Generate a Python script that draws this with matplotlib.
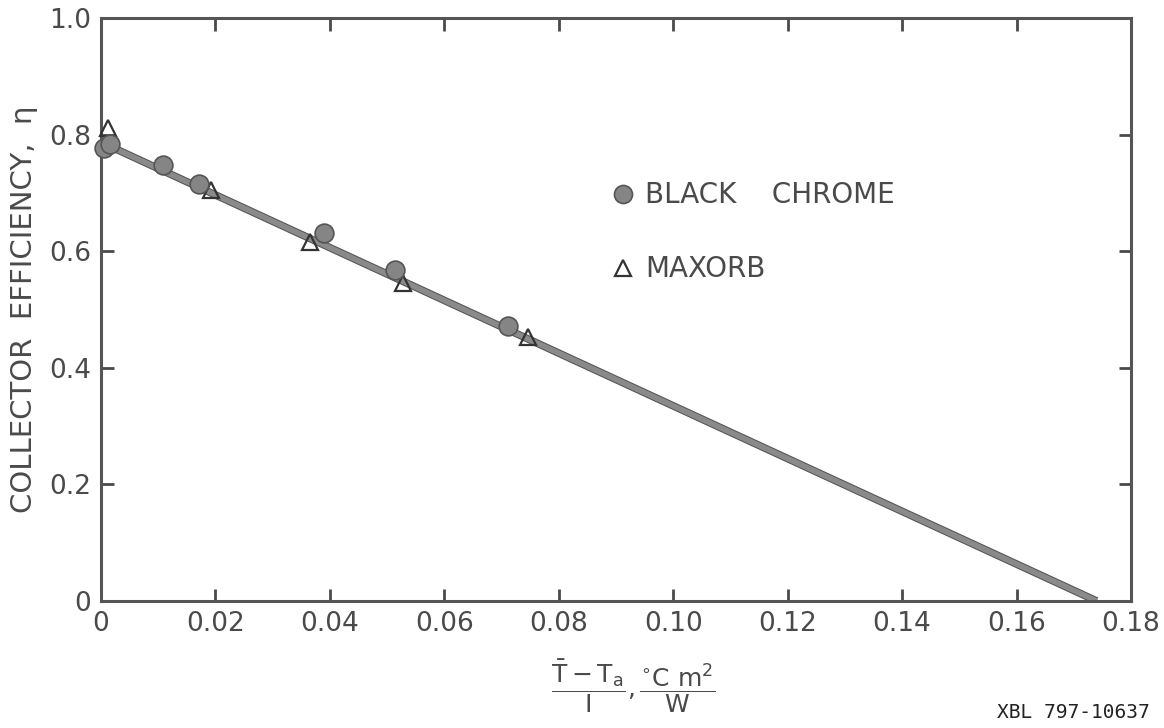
import matplotlib
matplotlib.use('Agg')
import matplotlib.pyplot as plt
import matplotlib.patheffects as pe

# ---- data ----
bc_x = [0.0005, 0.0016, 0.0109, 0.0172, 0.0389, 0.0514, 0.0712]
bc_y = [0.777, 0.784, 0.748, 0.716, 0.631, 0.568, 0.472]
mx_x = [0.0012, 0.0193, 0.0366, 0.0528, 0.0747]
mx_y = [0.811, 0.705, 0.616, 0.545, 0.453]
fit_x = [0.0, 0.174]
fit_y = [0.787, 0.0]

x_ticks = [0, 0.02, 0.04, 0.06, 0.08, 0.10, 0.12, 0.14, 0.16, 0.18]
x_labels = ['0', '0.02', '0.04', '0.06', '0.08', '0.10', '0.12', '0.14', '0.16', '0.18']
y_ticks = [0, 0.2, 0.4, 0.6, 0.8, 1.0]
y_labels = ['0', '0.2', '0.4', '0.6', '0.8', '1.0']

series_labels = ['BLACK    CHROME', 'MAXORB']

ink = '#4a4a4a'
plt.rcParams['font.family'] = ['DejaVu Sans']

fig = plt.figure(figsize=(11.64, 7.28), dpi=100)
ax = fig.add_axes([101/1164, 1 - 601/728, (1131-101)/1164, (601-18)/728])

ax.plot(fit_x, fit_y, color='#8a8a8a', lw=4.0, solid_capstyle='butt', zorder=2,
        path_effects=[pe.Stroke(linewidth=5.5, foreground='#555555'), pe.Normal()])
tri, = ax.plot(mx_x, mx_y, ls='none', marker='^', ms=12, mfc='none', mec='#333333',
               mew=1.6, zorder=3, clip_on=False)
circ, = ax.plot(bc_x, bc_y, ls='none', marker='o', ms=13.5, mfc='#858585', mec='#555555',
                mew=1.2, zorder=4, clip_on=False)

ax.set_xlim(0, 0.18)
ax.set_ylim(0, 1.0)
ax.set_xticks(x_ticks)
ax.set_xticklabels(x_labels)
ax.set_yticks(y_ticks)
ax.set_yticklabels(y_labels)
ax.tick_params(direction='in', length=9, width=2, color=ink, labelsize=19,
               labelcolor=ink, top=True, right=True, pad=7)
for s in ax.spines.values():
    s.set_linewidth(2.2)
    s.set_color('#555555')

ax.set_ylabel('COLLECTOR  EFFICIENCY,  η', fontsize=21, color=ink, labelpad=8)

leg = ax.legend([circ, tri], series_labels, loc='upper left',
                bbox_to_anchor=(0.496, 0.72), frameon=False, fontsize=20,
                handlelength=0.8, handletextpad=0.4, labelspacing=1.66,
                borderpad=0, borderaxespad=0, markerscale=1.0)
for t in leg.get_texts():
    t.set_color(ink)
leg.legend_handles[0].set_markersize(13)
leg.legend_handles[1].set_markersize(11)

fig.text(633/1164, 1 - 686/728,
         r'$\dfrac{\mathrm{\bar{T}-T_a}}{\mathrm{I}},\dfrac{\mathrm{{}^{\circ}C\ m^2}}{\mathrm{W}}$',
         fontsize=18, color=ink, ha='center', va='center')

fig.text(1150/1164, 1 - 713/728, 'XBL 797-10637', fontsize=14, family='DejaVu Sans Mono',
         color='#222222', ha='right', va='center')

fig.savefig('out.png', dpi=100)
